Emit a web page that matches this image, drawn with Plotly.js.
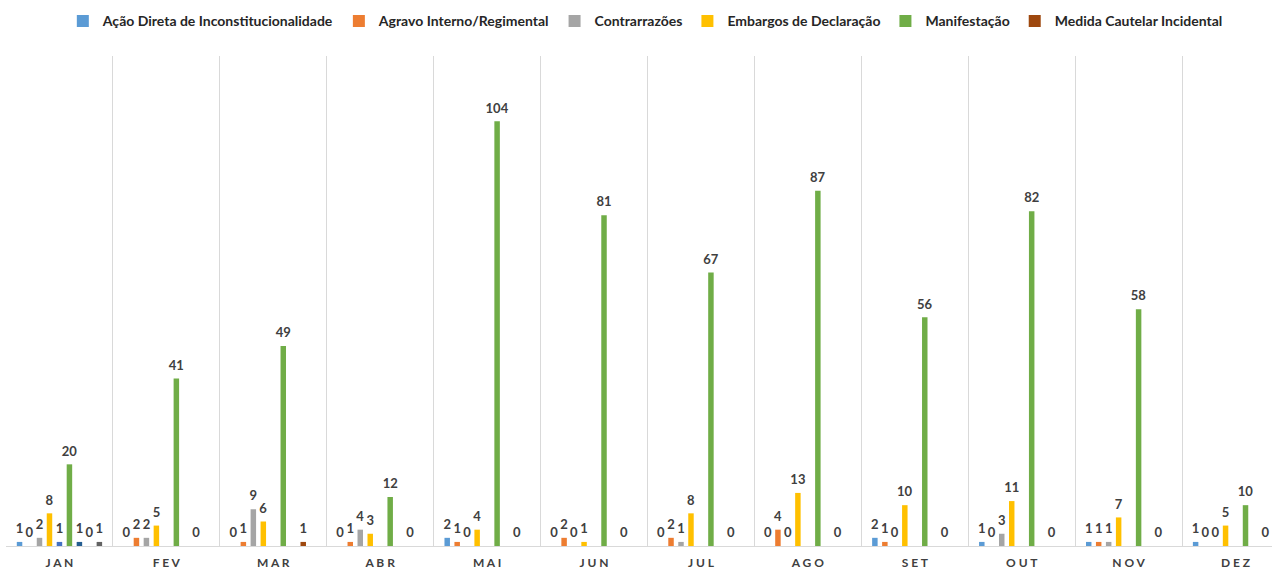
<!DOCTYPE html>
<html>
<head>
<meta charset="utf-8">
<script src="https://cdn.plot.ly/plotly-3.0.1.min.js"></script>
<style>html,body{margin:0;padding:0;background:#fff;}#chart{width:1272px;height:577px;}</style>
</head>
<body>
<div id="chart"></div>
<script>
const months = ["JAN","FEV","MAR","ABR","MAI","JUN","JUL","AGO","SET","OUT","NOV","DEZ"];
const monthLabels = ["J A N","F E V","M A R","A B R","M A I","J U N","J U L","A G O","S E T","O U T","N O V","D E Z"];

const acaoDireta   = [1, 0, 0, 0, 2, 0, 0, 0, 2, 1, 1, 1];
const agravo       = [0, 2, 1, 1, 1, 2, 2, 4, 1, 0, 1, 0];
const contrarrazoes= [2, 2, 9, 4, 0, 0, 1, 0, 0, 3, 1, 0];
const embargos     = [8, 5, 6, 3, 4, 1, 8, 13, 10, 11, 7, 5];
const extraA       = [1, null, null, null, null, null, null, null, null, null, null, null];
const manifestacao = [20, 41, 49, 12, 104, 81, 67, 87, 56, 82, 58, 10];
const extraB       = [1, null, null, null, null, null, null, null, null, null, null, null];
const medida       = [0, 0, 1, 0, 0, 0, 0, 0, 0, 0, 0, 0];
const extraC       = [1, null, null, null, null, null, null, null, null, null, null, null];

const series = [
  {name: "Ação Direta de Inconstitucionalidade", y: acaoDireta, color: "#5B9BD5", legend: true},
  {name: "Agravo Interno/Regimental", y: agravo, color: "#ED7D31", legend: true},
  {name: "Contrarrazões", y: contrarrazoes, color: "#A5A5A5", legend: true},
  {name: "Embargos de Declaração", y: embargos, color: "#FFC000", legend: true},
  {name: "Série 5", y: extraA, color: "#4472C4", legend: false},
  {name: "Manifestação", y: manifestacao, color: "#70AD47", legend: true},
  {name: "Série 7", y: extraB, color: "#255E91", legend: false},
  {name: "Medida Cautelar Incidental", y: medida, color: "#9E480E", legend: true},
  {name: "Série 9", y: extraC, color: "#636363", legend: false}
];

const traces = series.map(s => ({
  type: "bar",
  name: s.name,
  x: months,
  y: s.y,
  marker: {color: s.color},
  showlegend: s.legend,
  text: s.y.map(v => v === null ? "" : "<span style='font-size:13px'>" + v + "</span><br>\u00a0"),
  textposition: "outside",
  constraintext: "none",
  cliponaxis: false,
  textfont: {family: "Lato, 'Open Sans', sans-serif", size: 6, color: "#404040", weight: 700},
  hoverinfo: "name+y"
}));

const layout = {
  width: 1272, height: 577,
  margin: {l: 6, r: 0, t: 56, b: 31},
  paper_bgcolor: "#ffffff",
  plot_bgcolor: "#ffffff",
  barmode: "group",
  bargap: 0.16,
  bargroupgap: 0.45,
  showlegend: true,
  legend: {
    orientation: "h", x: 0.505, xanchor: "center", y: 0.963, yanchor: "middle", yref: "container",
    font: {family: "Lato, 'Open Sans', sans-serif", size: 14, color: "#262626", weight: 700},
    traceorder: "normal"
  },
  xaxis: {
    type: "category",
    range: [-0.5, 11.341],
    tickmode: "array", tickvals: months, ticktext: monthLabels,
    tickson: "boundaries",
    ticks: "", showgrid: true, gridcolor: "#D9D9D9", gridwidth: 1,
    showline: true, linecolor: "#D9D9D9", linewidth: 1,
    ticklabelstandoff: 6,
    tickfont: {family: "Lato, 'Open Sans', sans-serif", size: 12, color: "#404040", weight: 700},
    fixedrange: true
  },
  yaxis: {
    range: [0, 120],
    showgrid: false, zeroline: false, showticklabels: false, ticks: "", showline: false,
    fixedrange: true
  }
};

Plotly.newPlot("chart", traces, layout, {displayModeBar: false, staticPlot: true});
</script>
</body>
</html>
